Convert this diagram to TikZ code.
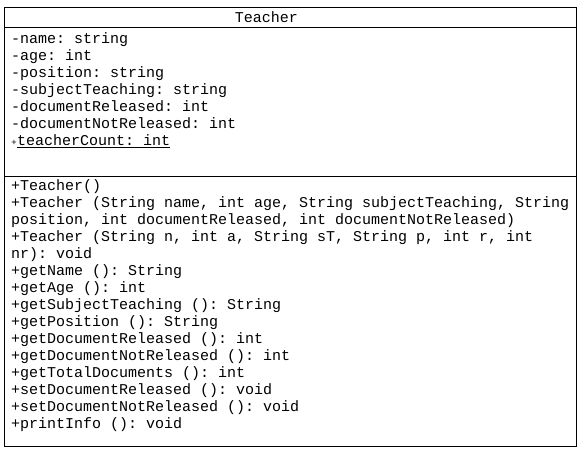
\documentclass[tikz,border=0pt]{standalone}
\usepackage{fontspec}
\setmonofont{Liberation Mono}
\begin{document}
\begin{tikzpicture}[x=1pt,y=1pt,
  frame/.style={draw=black,line width=1pt},
  member/.style={anchor=base west,inner sep=0pt,font=\ttfamily\fontsize{15}{17}\selectfont},
  title/.style={anchor=base,inner sep=0pt,font=\ttfamily\fontsize{15}{17}\selectfont}]
\useasboundingbox (0,0) rectangle (586,-457);
% class box and compartments
\node[frame,anchor=north west,minimum width=572pt,minimum height=438.5pt,inner sep=0pt] (box) at (4,-7.5) {};
\coordinate (h1) at (4,-27.5);
\coordinate (h2) at (576,-27.5);
\coordinate (d1) at (4,-177);
\coordinate (d2) at (576,-177);
\draw[frame] (h1) -- (h2);
\draw[frame] (d1) -- (d2);
% class name
\node[title] (name) at (266.5,-22.5) {Teacher};
% attributes
\node[member] (a1) at (11,-43.5) {-name: string};
\node[member] (a2) at (11,-60.5) {-age: int};
\node[member] (a3) at (11,-77.5) {-position: string};
\node[member] (a4) at (11,-94.5) {-subjectTeaching: string};
\node[member] (a5) at (11,-111.5) {-documentReleased: int};
\node[member] (a6) at (11,-128.5) {-documentNotReleased: int};
\node[member] (a7) at (11,-145.5) {{\fontsize{9}{9}\selectfont\makebox[6pt]{+}}\underline{teacherCount: int}};
% operations
\node[member] (m1) at (11,-190.5) {+Teacher()};
\node[member] (m2) at (11,-207.5) {+Teacher (String name, int age, String subjectTeaching, String};
\node[member] (m3) at (11,-224.5) {position, int documentReleased, int documentNotReleased)};
\node[member] (m4) at (11,-241.5) {+Teacher (String n, int a, String sT, String p, int r, int};
\node[member] (m5) at (11,-258.5) {nr): void};
\node[member] (m6) at (11,-275.5) {+getName (): String};
\node[member] (m7) at (11,-292.5) {+getAge (): int};
\node[member] (m8) at (11,-309.5) {+getSubjectTeaching (): String};
\node[member] (m9) at (11,-326.5) {+getPosition (): String};
\node[member] (m10) at (11,-343.5) {+getDocumentReleased (): int};
\node[member] (m11) at (11,-360.5) {+getDocumentNotReleased (): int};
\node[member] (m12) at (11,-377.5) {+getTotalDocuments (): int};
\node[member] (m13) at (11,-394.5) {+setDocumentReleased (): void};
\node[member] (m14) at (11,-411.5) {+setDocumentNotReleased (): void};
\node[member] (m15) at (11,-428.5) {+printInfo (): void};
\end{tikzpicture}
\end{document}
